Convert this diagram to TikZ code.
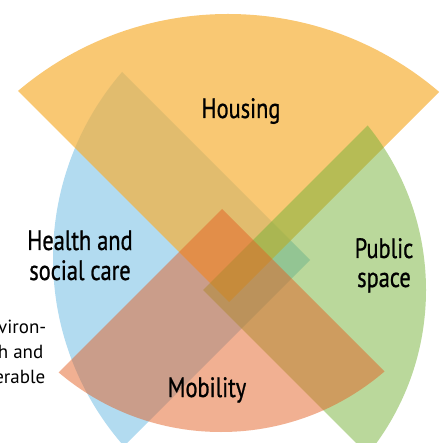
\documentclass[tikz,border=0pt]{standalone}
\usepackage{fontspec}
\setmainfont{PT Sans}
\newfontfamily\narrowfont{PT Sans}[FakeStretch=0.8,FakeBold=0.8]
\usepackage{tikz}
\usetikzlibrary{positioning}
\definecolor{healthblue}{RGB}{178,219,240}
\definecolor{housingyellow}{RGB}{246,176,56}
\definecolor{publicgreen}{RGB}{117,177,55}
\definecolor{mobilityred}{RGB}{227,97,37}
\tikzset{
  healthfill/.style={fill=healthblue},
  housingfill/.style={fill=housingyellow, fill opacity=0.7},
  publicfill/.style={fill=publicgreen, fill opacity=0.5},
  mobilityfill/.style={fill=mobilityred, fill opacity=0.5},
  sectorname/.style={font=\narrowfont\fontsize{28}{30}\selectfont, inner sep=0pt, anchor=base},
  cuttext/.style={font=\fontsize{19}{25}\selectfont, inner sep=0pt, anchor=base east}
}

\begin{document}
\begin{tikzpicture}[x=1pt,y=-1pt]
	\useasboundingbox (0,0) rectangle (444,443);
	\clip (0,0) rectangle (444,443);
	\begin{scope}
		\clip (338,258) circle (285pt);
		\fill[healthfill] (310,260) -- ++(-400,-400) -- ++(0,800) -- cycle;
	\end{scope}
	\begin{scope}
		\clip (228,339) circle (325pt);
		\fill[housingfill] (229,302) -- ++(-400,-400) -- ++(800,0) -- cycle;
	\end{scope}
	\begin{scope}
		\clip (165,290) circle (261pt);
		\fill[publicfill] (203,290) -- ++(400,-400) -- ++(0,800) -- cycle;
	\end{scope}
	\begin{scope}
		\clip (221,181) circle (251pt);
		\fill[mobilityfill] (222,209) -- ++(-400,400) -- ++(800,0) -- cycle;
	\end{scope}
	\node[sectorname] (housing) at (241,118) {Housing};
	\node[sectorname] (health1) at (80,250) {Health and};
	\node[sectorname] (health2) at (80,280) {social care};
	\node[sectorname] (public1) at (384,258) {Public};
	\node[sectorname] (public2) at (384,287) {space};
	\node[sectorname] (mobility) at (207,397) {Mobility};
	\node[cuttext] (side1) at (46.5,333) {nviron-};
	\node[cuttext] (side2) at (43.5,358) {h and};
	\node[cuttext] (side3) at (45.5,383) {erable};
\end{tikzpicture}
\end{document}
